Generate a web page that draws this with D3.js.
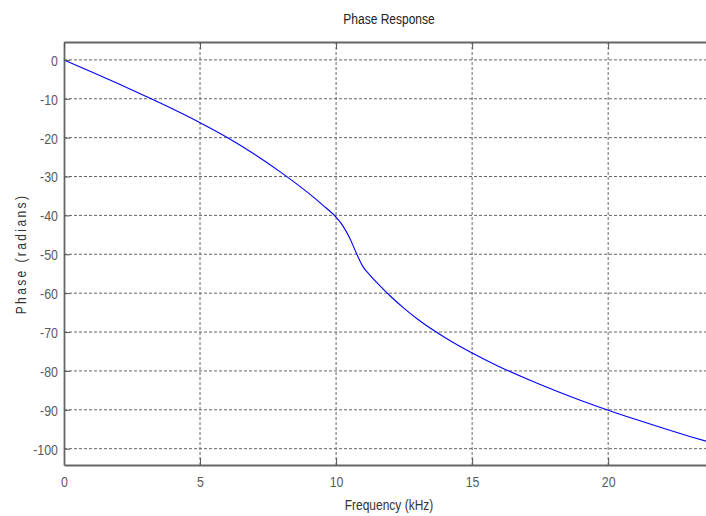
<!DOCTYPE html>
<html lang="en">
<head>
<meta charset="utf-8">
<title>Phase Response</title>
<script src="https://cdn.jsdelivr.net/npm/d3@7"></script>
<style>
	body { margin: 0; background: #fff; }
	svg { display: block; font-family: "Liberation Sans", Arial, sans-serif; }
</style>
</head>
<body>
<script>

// frequency (kHz) and unwrapped phase (radians)
var freq  = [0, 1, 2, 3, 4, 5, 6, 7, 8, 9, 9.5, 10, 10.25, 10.5, 10.75, 11, 11.25, 11.5, 12, 12.5, 13, 14, 15, 16, 17, 18, 19, 20, 21, 22, 23, 24];
var phase = [0, -3.05, -6.15, -9.35, -12.65, -16.15, -19.95, -24.25, -29.05, -34.35, -37.3, -40.45, -42.7, -45.8, -49.8, -53.3, -55.4, -57.3, -60.8, -63.9, -66.7, -71.4, -75.4, -78.9, -82.0, -84.9, -87.6, -90.1, -92.45, -94.7, -96.85, -98.9];

var xTicks = [0, 5, 10, 15, 20];
var yTicks = [0, -10, -20, -30, -40, -50, -60, -70, -80, -90, -100];

var w = 706;
var h = 516;
// plot box (right edge runs past the window, like the reference)
var pLeft = 64, pRight = 717, pTop = 42, pBottom = 465;
var sx = 0.8; // squeeze text horizontally, looks like a narrow font

var svg = d3.select("body")
	.append("svg")
	.attr("width", w)
	.attr("height", h);

var x = d3.scaleLinear().domain([0, 24]).range([pLeft, pRight]);
var y = d3.scaleLinear().domain([-104.2, 4.6]).range([pBottom, pTop]);

// grid
svg.append("g")
	.selectAll("line")
	.data(xTicks.slice(1))
	.enter()
	.append("line")
	.attr("x1", function(d) { return x(d); })
	.attr("x2", function(d) { return x(d); })
	.attr("y1", pTop)
	.attr("y2", pBottom)
	.attr("stroke", "#666")
	.attr("stroke-dasharray", "3,2");

svg.append("g")
	.selectAll("line")
	.data(yTicks)
	.enter()
	.append("line")
	.attr("x1", pLeft)
	.attr("x2", pRight)
	.attr("y1", function(d) { return y(d); })
	.attr("y2", function(d) { return y(d); })
	.attr("stroke", "#666")
	.attr("stroke-dasharray", "3,2");

// curve
var pts = freq.map(function(f, i) { return [f, phase[i]]; });
var line = d3.line()
	.x(function(d) { return x(d[0]); })
	.y(function(d) { return y(d[1]); })
	.curve(d3.curveMonotoneX);

svg.append("path")
	.datum(pts)
	.attr("d", line)
	.attr("fill", "none")
	.attr("stroke", "#0000ff")
	.attr("stroke-width", 1.1);

// axes, plain hyphen for the minus like the original
var fmt = function(d) { return String(d); };

var xAxis = svg.append("g")
	.attr("transform", "translate(0," + pBottom + ")")
	.call(d3.axisBottom(x).tickValues(xTicks).tickSize(-7).tickSizeOuter(0).tickFormat(fmt));

var yAxis = svg.append("g")
	.attr("transform", "translate(" + pLeft + ",0)")
	.call(d3.axisLeft(y).tickValues(yTicks).tickSize(-6).tickSizeOuter(0).tickFormat(fmt));

var topAxis = svg.append("g")
	.attr("transform", "translate(0," + pTop + ")")
	.call(d3.axisTop(x).tickValues(xTicks).tickSize(-7).tickSizeOuter(0).tickFormat(""));

[xAxis, yAxis, topAxis].forEach(function(g) {
	g.select(".domain").attr("stroke", "#666").attr("stroke-width", 1.8);
	g.selectAll(".tick line").attr("stroke", "#555");
});

xAxis.selectAll(".tick text")
	.attr("y", 22)
	.attr("dy", 0)
	.attr("fill", "#5a5a5a")
	.attr("font-size", 15.5)
	.attr("transform", "scale(" + sx + ",1)");

yAxis.selectAll(".tick text")
	.attr("x", -6 / sx)
	.attr("dy", "0.35em")
	.attr("fill", "#5a5a5a")
	.attr("font-size", 15.5)
	.attr("transform", "scale(" + sx + ",1)");

// labels
svg.append("text")
	.attr("transform", "translate(389,24) scale(" + sx + ",1)")
	.attr("text-anchor", "middle")
	.attr("font-size", 15)
	.attr("fill", "#222")
	.text("Phase Response");

svg.append("text")
	.attr("transform", "translate(389,510) scale(" + sx + ",1)")
	.attr("text-anchor", "middle")
	.attr("font-size", 15)
	.attr("fill", "#333")
	.text("Frequency (kHz)");

svg.append("text")
	.attr("transform", "translate(26,254) rotate(-90) scale(" + sx + ",1)")
	.attr("text-anchor", "middle")
	.attr("font-size", 15)
	.attr("letter-spacing", 3)
	.attr("fill", "#333")
	.text("Phase (radians)");

</script>
</body>
</html>
